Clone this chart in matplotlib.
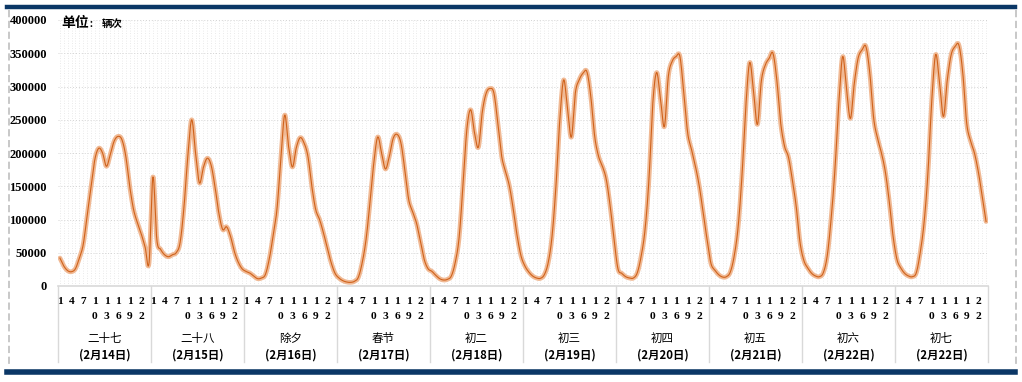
import numpy as np
import matplotlib
matplotlib.use("Agg")
import matplotlib.pyplot as plt
from matplotlib.transforms import blended_transform_factory
from matplotlib.lines import Line2D

# ---------------- data ----------------
day_names = ["二十七", "二十八", "除夕", "春节", "初二", "初三", "初四", "初五", "初六", "初七"]
day_dates = ["(2月14日)", "(2月15日)", "(2月16日)", "(2月17日)", "(2月18日)",
             "(2月19日)", "(2月20日)", "(2月21日)", "(2月22日)", "(2月22日)"]
hour_labels = [1, 4, 7, 10, 13, 16, 19, 22]
y_ticks = [0, 50000, 100000, 150000, 200000, 250000, 300000, 350000, 400000]

d1 = [42000, 30000, 23000, 21500, 26000, 42000, 62000, 105000, 148000, 190000, 207000, 200000,
      180000, 198000, 218000, 225000, 220000, 195000, 150000, 115000, 95000, 78000, 58000, 35000]
d2 = [164000, 70000, 55000, 47000, 44000, 47000, 50000, 65000, 118000, 195000, 250000, 200000,
      155000, 178000, 192000, 182000, 150000, 110000, 85000, 89000, 75000, 52000, 36000, 26000]
d3 = [22000, 19500, 15000, 11000, 12000, 17000, 40000, 75000, 115000, 190000, 257000, 210000,
      179000, 208000, 223000, 215000, 195000, 150000, 115000, 100000, 80000, 57000, 35000, 19000]
d4 = [12000, 8000, 6000, 5500, 7000, 13000, 35000, 70000, 125000, 185000, 224000, 200000,
      176000, 195000, 222000, 228000, 215000, 175000, 130000, 112000, 95000, 68000, 40000, 26000]
d5 = [22000, 16000, 11000, 9000, 10000, 15000, 35000, 72000, 150000, 235000, 265000, 230000,
      209000, 262000, 290000, 297000, 290000, 245000, 195000, 172000, 150000, 115000, 75000, 45000]
d6 = [30000, 21000, 15000, 12000, 11500, 17000, 35000, 75000, 150000, 250000, 310000, 265000,
      224000, 290000, 310000, 320000, 322000, 285000, 225000, 195000, 180000, 160000, 120000, 70000]
d7 = [26000, 19000, 14000, 12000, 12000, 20000, 45000, 85000, 160000, 275000, 321000, 280000,
      240000, 315000, 338000, 345000, 345000, 290000, 230000, 205000, 180000, 150000, 110000, 70000]
d8 = [34000, 24000, 17000, 13500, 14000, 21000, 45000, 88000, 165000, 270000, 336000, 292000,
      243000, 308000, 332000, 342000, 350000, 310000, 245000, 210000, 194000, 160000, 120000, 65000]
d9 = [38000, 27000, 19000, 15000, 14000, 20000, 45000, 100000, 175000, 275000, 345000, 295000,
      252000, 305000, 343000, 355000, 360000, 320000, 252000, 222000, 200000, 172000, 128000, 75000]
d10 = [40000, 27000, 19000, 15000, 14000, 20000, 50000, 95000, 170000, 280000, 348000, 305000,
       255000, 310000, 348000, 360000, 362000, 320000, 245000, 218000, 200000, 172000, 135000, 97000]
days_values = [d1, d2, d3, d4, d5, d6, d7, d8, d9, d10]

# ---------------- rendering helpers ----------------
def smooth_curve(x, y, n=12):
    """Excel-like smoothed line (Bezier with Catmull-Rom control points)."""
    x = np.asarray(x, float)
    y = np.asarray(y, float)
    px = np.concatenate([[x[0]], x, [x[-1]]])
    py = np.concatenate([[y[0]], y, [y[-1]]])
    xs, ys = [], []
    t = np.linspace(0, 1, n, endpoint=False)
    for i in range(1, len(px) - 2):
        p0x, p0y = px[i], py[i]
        p3x, p3y = px[i + 1], py[i + 1]
        c1x = p0x + (px[i + 1] - px[i - 1]) / 6
        c1y = p0y + (py[i + 1] - py[i - 1]) / 6
        c2x = p3x - (px[i + 2] - px[i]) / 6
        c2y = p3y - (py[i + 2] - py[i]) / 6
        b0 = (1 - t) ** 3
        b1 = 3 * (1 - t) ** 2 * t
        b2 = 3 * (1 - t) * t ** 2
        b3 = t ** 3
        xs.append(b0 * p0x + b1 * c1x + b2 * c2x + b3 * p3x)
        ys.append(b0 * p0y + b1 * c1y + b2 * c2y + b3 * p3y)
    xs.append([x[-1]])
    ys.append([y[-1]])
    return np.concatenate(xs), np.concatenate(ys)

values = np.concatenate([np.asarray(v, float) for v in days_values])
n_days = len(days_values)
hours_per_day = len(d1)
xidx = np.arange(len(values))

# ---------------- figure ----------------
W, H = 1022, 382
fig = plt.figure(figsize=(W / 100, H / 100), dpi=100)
fig.patch.set_facecolor("white")

def px2fig(x, y):
    return x / W, 1 - y / H

left, right, top, bottom = 58, 988, 20, 286
ax = fig.add_axes([left / W, 1 - bottom / H, (right - left) / W, (bottom - top) / H])
ax.set_facecolor("white")

serif_bold = dict(family="Liberation Serif", weight="bold")
cjk = ["Noto Sans CJK SC", "DejaVu Sans"]

ax.set_xlim(-0.5, len(values) - 0.5)
ax.set_ylim(0, 400000)
ax.set_yticks(y_ticks)
ax.set_yticklabels([str(v) for v in y_ticks], fontsize=9, **serif_bold)
ax.tick_params(axis="y", length=0, pad=8)
ax.set_xticks([])
ax.set_xticks(np.arange(len(values)), minor=True)
ax.tick_params(axis="x", which="both", length=0, labelbottom=False)

# grid
ax.grid(axis="y", which="major", ls=(0, (1, 2)), color="#d4d4d4", lw=0.7)
ax.grid(axis="x", which="minor", ls=(0, (1, 2)), color="#e3e3e3", lw=0.6)
ax.set_axisbelow(True)

for s in ["left", "right", "top"]:
    ax.spines[s].set_visible(False)
ax.spines["bottom"].set_color("#d9d9d9")
ax.spines["bottom"].set_linewidth(1.2)

# series
sx, sy = smooth_curve(xidx, values)
ax.plot(sx, sy, color="#f0b994", lw=3.4, solid_capstyle="round", zorder=3)
ax.plot(sx, sy, color="#cf621b", lw=0.8, zorder=4)

# category axis labels
trans = blended_transform_factory(ax.transData, ax.transAxes)
def fy(py):
    return (bottom - py) / (bottom - top)

for d in range(n_days):
    for h in hour_labels:
        xi = d * hours_per_day + h - 1
        s = str(h)
        ax.text(xi, fy(301.5), s[0], transform=trans, ha="center", va="center",
                fontsize=8.2, clip_on=False, **serif_bold)
        if len(s) > 1:
            ax.text(xi, fy(316.5), s[1], transform=trans, ha="center", va="center",
                    fontsize=8.2, clip_on=False, **serif_bold)
    xc = d * hours_per_day + (hours_per_day - 1) / 2
    ax.text(xc, fy(338.5), day_names[d], transform=trans, ha="center", va="center",
            fontsize=8.3, family=cjk, clip_on=False)
    ax.text(xc, fy(355), day_dates[d], transform=trans, ha="center", va="center",
            fontsize=8.2, family=cjk, weight="bold", clip_on=False)

for d in range(n_days + 1):
    xb = d * hours_per_day - 0.5
    ax.add_line(Line2D([xb, xb], [0, fy(362)], transform=trans, color="#d9d9d9",
                       lw=1.0, clip_on=False))

# unit label
fig.text(*px2fig(61, 23), "单位", fontsize=10, family=cjk, weight="bold", ha="left", va="center")
fig.text(*px2fig(89, 24), "：", fontsize=7, family=cjk, weight="bold", ha="left", va="center")
fig.text(*px2fig(102, 24), "辆次", fontsize=7.5, family=cjk, weight="bold", ha="left", va="center")

# frame decorations
fig.add_artist(Line2D([7 / W, 1015 / W], [1 - 7 / H, 1 - 7 / H], color="#0b3766", lw=3.2))
fig.add_artist(Line2D([7 / W, 1015 / W], [1 - 371.5 / H, 1 - 371.5 / H], color="#0b3766", lw=4.0))
fig.add_artist(Line2D([8.5 / W, 8.5 / W], [1 - 10 / H, 1 - 367 / H], color="#c4c4c4", lw=1.3,
                      ls=(0, (4, 2))))
fig.add_artist(Line2D([1015.5 / W, 1015.5 / W], [1 - 10 / H, 1 - 367 / H], color="#c4c4c4", lw=1.3,
                      ls=(0, (4, 2))))

fig.savefig("out.png", dpi=100, facecolor="white")
